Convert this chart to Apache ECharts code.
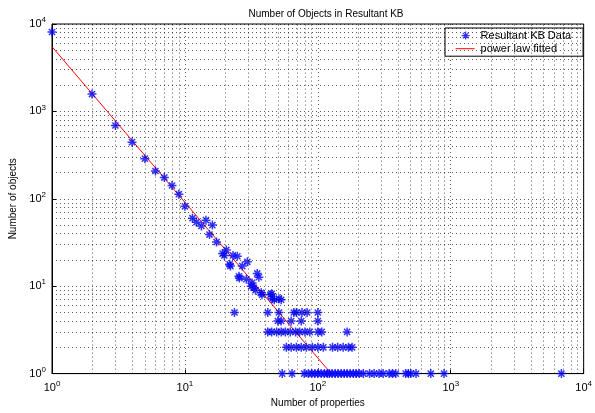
<!DOCTYPE html>
<html>
<head>
<meta charset="utf-8">
<script src="https://cdn.jsdelivr.net/npm/echarts@6/dist/echarts.min.js"></script>
<style>
  html, body { margin: 0; padding: 0; background: #fff; }
  #chart { width: 595px; height: 413px; }
</style>
</head>
<body>
<div id="chart"></div>
<script>
// scattered upper part (properties, objects)
const headX = [1, 2, 3, 4, 5, 6, 7, 8, 9, 10, 11.4, 12.2, 13.3, 14.4, 16.1, 15.3, 17.3, 19.2, 20.5, 19.8, 23, 24.8, 21.7, 29.5, 22, 27, 25.7, 29, 36, 32, 33, 38, 37.5, 45, 45.5, 51, 34, 31.5, 25.5, 35, 47, 53, 44, 23.6];
const headY = [8100, 1580, 690, 445, 288, 208, 175, 142, 113, 82, 60, 54, 49, 57, 50, 39, 32, 23.6, 26, 22.5, 22.5, 22, 17.8, 19, 17, 17, 12.4, 12, 12.7, 10.9, 9.6, 8, 8.4, 8.2, 7.2, 7.2, 9, 10, 13, 14, 7, 7, 8, 5];
// rows with few objects: property counts having 5, 4, 3, 2, 1 objects
const x5 = [42, 51, 66, 69, 76, 83, 100];
const x4 = [50, 53, 63, 75, 100];
const x3 = [42, 45, 49, 53, 57, 62, 68, 73, 80, 87, 100, 107, 166];
const x2 = [58, 63, 69, 75, 82, 91, 100, 110, 129, 141, 155, 170, 181];
const x1 = [54, 64, 79, 85, 90, 95, 100, 106, 112, 118, 122, 128, 135, 142, 150, 158, 166, 175, 185, 194, 205, 220, 245, 265, 289, 310, 344, 365, 386, 458, 480, 500, 548, 708, 890, 6800];
// fitted power law, end points
const fitX = [1, 126];
const fitY = [5500, 1];

const decades = [1, 10, 100, 1000];
const mults = [2, 3, 4, 5, 6, 7, 8, 9];

const pts = headX.map((x, i) => [x, headY[i]]);
[[x5, 5], [x4, 4], [x3, 3], [x2, 2], [x1, 1]].forEach(([xs, y]) => {
  xs.forEach(x => pts.push([x, y]));
});
const minor = [];
decades.forEach(d => mults.forEach(m => minor.push(d * m)));

const dotted = { color: '#000', type: [1, 3], width: 1, opacity: 0.65 };
const star = 'path://M5,0 L5,10 M0,5 L10,5 M1.6,1.6 L8.4,8.4 M1.6,8.4 L8.4,1.6';
const starIcon = 'path://M0,0 M10,1 L10,9 M6,5 L14,5 M7.2,2.2 L12.8,7.8 M7.2,7.8 L12.8,2.2 M20,10';
const lineIcon = 'path://M0,0 M0,4.5 L19,4.5 L19,5.5 L0,5.5 Z M20,10';
const font = 'Liberation Sans';

const expLabel = v => '{b|10}{s|' + Math.round(Math.log10(v)) + '}';
const rich = {
  b: { fontSize: 11, fontFamily: font, color: '#000' },
  s: { fontSize: 8, fontFamily: font, color: '#000', padding: [0, 0, 8, 0] }
};

const chart = echarts.init(document.getElementById('chart'));
chart.setOption({
  animation: false,
  backgroundColor: '#fff',
  title: {
    text: 'Number of Objects in Resultant KB',
    left: 321, top: 4, textAlign: 'center',
    textStyle: { fontSize: 10, fontWeight: 'normal', fontFamily: font, color: '#000' }
  },
  grid: { left: 52, right: 10, top: 24, bottom: 34, show: true, borderColor: '#000', borderWidth: 1 },
  legend: {
    left: 445, top: 28, orient: 'vertical', align: 'left',
    backgroundColor: '#fff', borderColor: '#000', borderWidth: 1,
    padding: [2, 12, 2, 10], itemGap: 2, itemWidth: 20, itemHeight: 10,
    textStyle: { fontSize: 11, fontFamily: font, color: '#000' },
    data: [
      { name: 'Resultant KB Data', icon: starIcon,
        itemStyle: { color: 'transparent', borderColor: '#0000ff', borderWidth: 1.2 } },
      { name: 'power law fitted', icon: lineIcon,
        itemStyle: { color: '#ff0000', borderWidth: 0 } }
    ]
  },
  xAxis: {
    type: 'log', logBase: 10, min: 1, max: 10000,
    name: 'Number of properties', nameLocation: 'middle', nameGap: 18,
    nameTextStyle: { fontSize: 10, fontFamily: font, color: '#000' },
    axisLine: { lineStyle: { color: '#000' } },
    axisTick: { inside: true, length: 4, lineStyle: { color: '#000' } },
    axisLabel: { formatter: expLabel, rich: rich, margin: 6 },
    splitLine: { show: true, lineStyle: dotted }
  },
  yAxis: {
    type: 'log', logBase: 10, min: 1, max: 10000,
    name: 'Number of objects', nameLocation: 'middle', nameGap: 28,
    nameTextStyle: { fontSize: 10, fontFamily: font, color: '#000' },
    axisLine: { lineStyle: { color: '#000' } },
    axisTick: { inside: true, length: 4, lineStyle: { color: '#000' } },
    axisLabel: { formatter: expLabel, rich: rich, margin: 6 },
    splitLine: { show: true, lineStyle: dotted }
  },
  series: [
    {
      name: 'grid', type: 'line', data: [], silent: true,
      markLine: {
        silent: true, symbol: 'none', label: { show: false },
        lineStyle: dotted, animation: false,
        data: minor.map(v => ({ xAxis: v })).concat(minor.map(v => ({ yAxis: v })))
      }
    },
    {
      name: 'power law fitted', type: 'line', symbol: 'none', z: 3,
      data: fitX.map((x, i) => [x, fitY[i]]),
      lineStyle: { color: '#ff0000', width: 1 },
      itemStyle: { color: '#ff0000' }
    },
    {
      name: 'Resultant KB Data', type: 'scatter', clip: false, z: 4,
      symbol: star, symbolSize: 9,
      itemStyle: { color: 'transparent', borderColor: '#0000ff', borderWidth: 1.5 },
      data: pts
    }
  ]
});
</script>
</body>
</html>
